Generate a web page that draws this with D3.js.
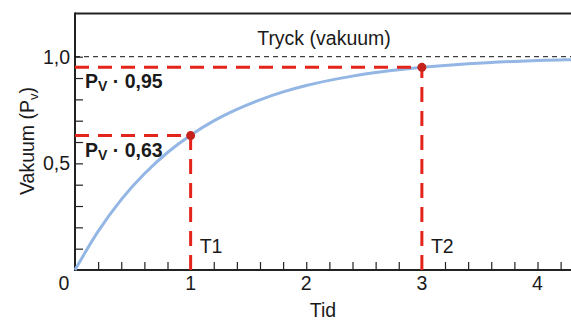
<!DOCTYPE html>
<html>
<head>
<meta charset="utf-8">
<script src="https://cdn.jsdelivr.net/npm/d3@7"></script>
<style>
  body { margin: 0; background: #fff; }
  text { font-family: "Liberation Sans", Arial, sans-serif; fill: #1a1a1a; }
</style>
</head>
<body>
<div id="chart"></div>
<script>
const width = 571, height = 320;

// curve (tid, vakuum)
const curveT = [0, 0.2, 0.4, 0.6, 0.8, 1.0, 1.2, 1.4, 1.6, 1.8, 2.0, 2.2, 2.4, 2.6, 2.8, 3.0, 3.2, 3.4, 3.6, 3.8, 4.0, 4.2, 4.3];
const curveP = [0, 0.181, 0.330, 0.451, 0.551, 0.632, 0.699, 0.753, 0.798, 0.835, 0.865, 0.889, 0.909, 0.926, 0.939, 0.950, 0.959, 0.967, 0.973, 0.978, 0.982, 0.985, 0.986];

// marked points
const markT = [1, 3];
const markP = [0.63, 0.95];
const markNames = ["T1", "T2"];
const markLabels = ["0,63", "0,95"];

const xTickLabels = ["0", "1", "2", "3", "4"];
const yTickValues = [0.5, 1.0];
const yTickLabels = ["0,5", "1,0"];

const fs = 19.5;

const x = d3.scaleLinear().domain([0, 4]).range([75, 537.5]);
const y = d3.scaleLinear().domain([0, 1]).range([270, 56.7]);
const xMax = x.invert(width);

const svg = d3.select("#chart")
  .append("svg")
  .attr("width", width)
  .attr("height", height);

// top frame line
svg.append("line")
  .attr("x1", x(0)).attr("x2", width)
  .attr("y1", 13.5).attr("y2", 13.5)
  .attr("stroke", "#222").attr("stroke-width", 2);

// axes with inward ticks
const xAxis = svg.append("g")
  .attr("transform", `translate(0,${y(0)})`)
  .call(d3.axisBottom(x)
    .tickValues(d3.range(0.2, xMax, 0.2))
    .tickSize(-8).tickFormat("").tickSizeOuter(0));
xAxis.select(".domain").remove();
xAxis.selectAll("line").attr("stroke", "#222").attr("stroke-width", 1.2);
svg.append("line")
  .attr("x1", x(0)).attr("x2", width)
  .attr("y1", y(0)).attr("y2", y(0))
  .attr("stroke", "#222").attr("stroke-width", 2);

const yAxis = svg.append("g")
  .attr("transform", `translate(${x(0)},0)`)
  .call(d3.axisLeft(y)
    .tickValues(d3.range(0.1, 1.01, 0.1))
    .tickSize(-8).tickFormat("").tickSizeOuter(0));
yAxis.select(".domain").remove();
yAxis.selectAll("line").attr("stroke", "#222").attr("stroke-width", 1.2);
svg.append("line")
  .attr("x1", x(0)).attr("x2", x(0))
  .attr("y1", 12.5).attr("y2", y(0) + 1)
  .attr("stroke", "#222").attr("stroke-width", 2);

// tick labels
svg.append("g").selectAll("text")
  .data(xTickLabels)
  .join("text")
  .attr("x", (d, i) => i === 0 ? x(0) - 11 : x(i))
  .attr("y", 290)
  .attr("text-anchor", "middle")
  .attr("font-size", fs)
  .text(d => d);

svg.append("g").selectAll("text")
  .data(yTickValues)
  .join("text")
  .attr("x", 70)
  .attr("y", d => y(d) + 7)
  .attr("text-anchor", "end")
  .attr("font-size", fs)
  .text((d, i) => yTickLabels[i]);

// axis titles
svg.append("text")
  .attr("x", 323).attr("y", 317)
  .attr("text-anchor", "middle")
  .attr("font-size", fs)
  .text("Tid");

const yTitle = svg.append("text")
  .attr("transform", "translate(34,141) rotate(-90)")
  .attr("text-anchor", "middle")
  .attr("font-size", fs);
yTitle.append("tspan").text("Vakuum (P");
yTitle.append("tspan").attr("font-size", 13).attr("dy", 4).text("v");
yTitle.append("tspan").attr("dy", -4).text(")");

// reference line at 1,0
svg.append("line")
  .attr("x1", x(0)).attr("x2", width)
  .attr("y1", y(1)).attr("y2", y(1))
  .attr("stroke", "#111").attr("stroke-width", 1)
  .attr("stroke-dasharray", "5,4");

svg.append("text")
  .attr("x", 324).attr("y", 45)
  .attr("text-anchor", "middle")
  .attr("font-size", fs)
  .text("Tryck (vakuum)");

// curve
const line = d3.line()
  .x((d, i) => x(curveT[i]))
  .y(d => y(d))
  .curve(d3.curveCatmullRom);

svg.append("path")
  .datum(curveP)
  .attr("fill", "none")
  .attr("stroke", "#93b6e4")
  .attr("stroke-width", 3)
  .attr("d", line);

// red guide lines
const guides = svg.append("g");
markT.forEach((t, i) => {
  guides.append("line")
    .attr("x1", x(0)).attr("x2", x(t))
    .attr("y1", y(markP[i])).attr("y2", y(markP[i]))
    .attr("stroke", "#e3241b").attr("stroke-width", 3)
    .attr("stroke-dasharray", "14,9");
  guides.append("line")
    .attr("x1", x(t)).attr("x2", x(t))
    .attr("y1", y(0)).attr("y2", y(markP[i]))
    .attr("stroke", "#e3241b").attr("stroke-width", 3)
    .attr("stroke-dasharray", "15,9");
});

svg.append("g").selectAll("circle")
  .data(markT)
  .join("circle")
  .attr("cx", d => x(d))
  .attr("cy", (d, i) => y(markP[i]))
  .attr("r", 4.5)
  .attr("fill", "#c4221a");

// T1 / T2
svg.append("g").selectAll("text")
  .data(markNames)
  .join("text")
  .attr("x", (d, i) => x(markT[i]) + 9)
  .attr("y", 253)
  .attr("font-size", fs)
  .text(d => d);

// Pv labels
svg.append("g").selectAll("text")
  .data(markLabels)
  .join("text")
  .attr("x", 85)
  .attr("y", (d, i) => y(markP[i]) + 21)
  .attr("font-size", 19.5)
  .attr("font-weight", "bold")
  .each(function(d) {
    const t = d3.select(this);
    t.append("tspan").text("P");
    t.append("tspan").attr("font-size", 14).attr("dy", 3).text("V");
    t.append("tspan").attr("dy", -3).text(" · " + d);
  });
</script>
</body>
</html>
